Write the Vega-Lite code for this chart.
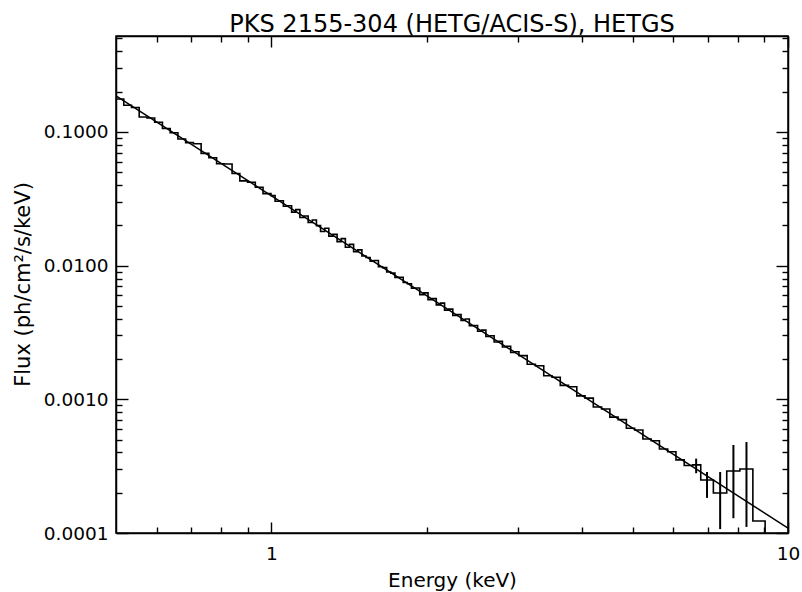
{
  "$schema": "https://vega.github.io/schema/vega-lite/v6.json",
  "autosize": "none",
  "width": 672,
  "height": 497,
  "padding": {"left": 116, "top": 36, "right": 14, "bottom": 59},
  "background": "white",
  "config": {
    "view": {"stroke": "black", "strokeWidth": 1.5},
    "font": "DejaVu Sans",
    "axis": {"domainColor": "black", "domainWidth": 1.5, "tickColor": "black", "tickWidth": 1.4, "labelColor": "black", "titleColor": "black", "grid": false, "labelFont": "DejaVu Sans", "titleFont": "DejaVu Sans", "labelFontSize": 18.5, "titleFontSize": 20, "titleFontWeight": "normal", "labelOverlap": false, "labelFlush": false}
  },
  "title": {"text": "PKS 2155-304 (HETG/ACIS-S), HETGS", "font": "DejaVu Sans", "fontSize": 24, "fontWeight": "normal", "color": "black", "anchor": "middle", "offset": -2},
  "datasets": {
    "model": [{"e": 0.5, "f": 0.186}, {"e": 10, "f": 0.0001088}],
    "spec": [
      {"e": 0.5, "f": 0.176}, {"e": 0.5176, "f": 0.158}, {"e": 0.5357, "f": 0.152}, {"e": 0.5545, "f": 0.129},
      {"e": 0.574, "f": 0.127}, {"e": 0.5941, "f": 0.118}, {"e": 0.615, "f": 0.106}, {"e": 0.6366, "f": 0.0985},
      {"e": 0.6589, "f": 0.0885}, {"e": 0.682, "f": 0.083}, {"e": 0.706, "f": 0.0815}, {"e": 0.7308, "f": 0.069},
      {"e": 0.7564, "f": 0.064}, {"e": 0.783, "f": 0.0578}, {"e": 0.8105, "f": 0.0575}, {"e": 0.8389, "f": 0.0488},
      {"e": 0.8684, "f": 0.043}, {"e": 0.8988, "f": 0.042}, {"e": 0.9304, "f": 0.0385}, {"e": 0.963, "f": 0.0345},
      {"e": 0.9977, "f": 0.0334}, {"e": 1.0162, "f": 0.0303}, {"e": 1.0351, "f": 0.0305}, {"e": 1.0544, "f": 0.0278},
      {"e": 1.074, "f": 0.0280}, {"e": 1.0939, "f": 0.0251}, {"e": 1.1143, "f": 0.0262}, {"e": 1.135, "f": 0.0229},
      {"e": 1.1561, "f": 0.0235}, {"e": 1.1776, "f": 0.0210}, {"e": 1.1995, "f": 0.0219}, {"e": 1.2218, "f": 0.0199},
      {"e": 1.2445, "f": 0.0180}, {"e": 1.2677, "f": 0.0190}, {"e": 1.2912, "f": 0.0166}, {"e": 1.3152, "f": 0.0171},
      {"e": 1.3397, "f": 0.0151}, {"e": 1.3646, "f": 0.0159}, {"e": 1.39, "f": 0.0137}, {"e": 1.4158, "f": 0.0144},
      {"e": 1.4421, "f": 0.0127}, {"e": 1.469, "f": 0.0131}, {"e": 1.4963, "f": 0.0118}, {"e": 1.5241, "f": 0.0115},
      {"e": 1.5524, "f": 0.0108}, {"e": 1.5813, "f": 0.0109}, {"e": 1.6107, "f": 0.0098}, {"e": 1.6407, "f": 0.00965},
      {"e": 1.6712, "f": 0.00895}, {"e": 1.7022, "f": 0.00878}, {"e": 1.7339, "f": 0.00816}, {"e": 1.7661, "f": 0.00818},
      {"e": 1.799, "f": 0.00748}, {"e": 1.8324, "f": 0.00732}, {"e": 1.8665, "f": 0.00678}, {"e": 1.9012, "f": 0.00680},
      {"e": 1.9366, "f": 0.00606}, {"e": 1.9726, "f": 0.00625}, {"e": 2.0093, "f": 0.00556}, {"e": 2.0466, "f": 0.00566},
      {"e": 2.0847, "f": 0.00508}, {"e": 2.1235, "f": 0.00524}, {"e": 2.163, "f": 0.00464}, {"e": 2.2032, "f": 0.00472},
      {"e": 2.2442, "f": 0.00424}, {"e": 2.2859, "f": 0.00430}, {"e": 2.3284, "f": 0.00389}, {"e": 2.3717, "f": 0.00398},
      {"e": 2.4158, "f": 0.00355}, {"e": 2.4607, "f": 0.00356}, {"e": 2.5065, "f": 0.00323}, {"e": 2.5531, "f": 0.00329},
      {"e": 2.6006, "f": 0.00295}, {"e": 2.649, "f": 0.00299}, {"e": 2.6982, "f": 0.00268}, {"e": 2.7484, "f": 0.00271},
      {"e": 2.7995, "f": 0.00246}, {"e": 2.8516, "f": 0.00249}, {"e": 2.9046, "f": 0.00224}, {"e": 2.9586, "f": 0.00227},
      {"e": 3.0136, "f": 0.00212}, {"e": 3.1267, "f": 0.00183}, {"e": 3.2441, "f": 0.00178}, {"e": 3.3658, "f": 0.0015},
      {"e": 3.4921, "f": 0.00146}, {"e": 3.6232, "f": 0.00127}, {"e": 3.7591, "f": 0.00124}, {"e": 3.9002, "f": 0.00106},
      {"e": 4.0465, "f": 0.00102}, {"e": 4.1984, "f": 0.000875}, {"e": 4.3559, "f": 0.000845}, {"e": 4.5194, "f": 0.000735},
      {"e": 4.689, "f": 0.000705}, {"e": 4.865, "f": 0.000608}, {"e": 5.0475, "f": 0.00059}, {"e": 5.2369, "f": 0.000505},
      {"e": 5.4335, "f": 0.00049}, {"e": 5.6374, "f": 0.000425}, {"e": 5.8489, "f": 0.000405}, {"e": 6.0684, "f": 0.000352},
      {"e": 6.2961, "f": 0.00032}, {"e": 6.5324, "f": 0.000323}, {"e": 6.7775, "f": 0.000249}, {"e": 7.17, "f": 0.000199},
      {"e": 7.61, "f": 0.000291}, {"e": 8.07, "f": 0.000301}, {"e": 8.55, "f": 0.000123}, {"e": 9.03, "f": 0.00008}
    ],
    "err": [
      {"e": 6.64, "lo": 0.00028, "hi": 0.00036},
      {"e": 6.97, "lo": 0.000183, "hi": 0.000286},
      {"e": 7.39, "lo": 0.000107, "hi": 0.000286},
      {"e": 7.84, "lo": 0.000129, "hi": 0.000455},
      {"e": 8.31, "lo": 0.000111, "hi": 0.000479}
    ]
  },
  "resolve": {"axis": {"x": "independent", "y": "independent"}},
  "layer": [
    {
      "data": {"name": "model"},
      "mark": {"type": "line", "color": "black", "strokeWidth": 1.5, "clip": true},
      "encoding": {
        "x": {"field": "e", "type": "quantitative", "scale": {"type": "log", "domain": [0.5, 10], "nice": false},
          "axis": {"orient": "bottom", "title": "Energy (keV)", "values": [1, 10], "format": "d",
            "tickSize": -11, "labelPadding": 22, "titleX": 336, "titleY": 47, "titleBaseline": "middle", "titleAlign": "center"}},
        "y": {"field": "f", "type": "quantitative", "scale": {"type": "log", "domain": [0.0001, 0.521], "nice": false},
          "axis": {"orient": "left", "title": "Flux (ph/cm²/s/keV)", "values": [0.0001, 0.001, 0.01, 0.1], "format": ".4f",
            "tickSize": -12, "labelPadding": 20, "titleX": -93, "titleY": 248, "titleBaseline": "middle", "titleAlign": "center", "titleAngle": -90, "titleFontSize": 21}}
      }
    },
    {
      "data": {"name": "spec"},
      "mark": {"type": "line", "interpolate": "step-after", "color": "black", "strokeWidth": 1.6, "clip": true},
      "encoding": {
        "x": {"field": "e", "type": "quantitative", "scale": {"type": "log", "domain": [0.5, 10], "nice": false},
          "axis": {"orient": "top", "title": null, "values": [1, 10], "labels": false, "tickSize": -11}},
        "y": {"field": "f", "type": "quantitative", "scale": {"type": "log", "domain": [0.0001, 0.521], "nice": false},
          "axis": {"orient": "right", "title": null, "labels": false, "values": [0.0001, 0.001, 0.01, 0.1], "tickSize": -12}}
      }
    },
    {
      "data": {"name": "err"},
      "mark": {"type": "rule", "color": "black", "strokeWidth": 2, "clip": true},
      "encoding": {
        "x": {"field": "e", "type": "quantitative", "scale": {"type": "log", "domain": [0.5, 10], "nice": false},
          "axis": {"orient": "bottom", "title": null, "labels": false, "domain": false, "values": [0.6, 0.7, 0.8, 0.9, 2, 3, 4, 5, 6, 7, 8, 9], "tickSize": -6}},
        "y": {"field": "lo", "type": "quantitative", "scale": {"type": "log", "domain": [0.0001, 0.521], "nice": false},
          "axis": {"orient": "left", "title": null, "labels": false, "domain": false, "tickSize": -6,
            "values": [0.0002, 0.0003, 0.0004, 0.0005, 0.0006, 0.0007, 0.0008, 0.0009, 0.002, 0.003, 0.004, 0.005, 0.006, 0.007, 0.008, 0.009, 0.02, 0.03, 0.04, 0.05, 0.06, 0.07, 0.08, 0.09, 0.2, 0.3, 0.4, 0.5]}},
        "y2": {"field": "hi"}
      }
    },
    {
      "data": {"name": "model"},
      "mark": {"type": "line", "opacity": 0, "clip": true},
      "encoding": {
        "x": {"field": "e", "type": "quantitative", "scale": {"type": "log", "domain": [0.5, 10], "nice": false},
          "axis": {"orient": "top", "title": null, "labels": false, "domain": false, "values": [0.6, 0.7, 0.8, 0.9, 2, 3, 4, 5, 6, 7, 8, 9], "tickSize": -6}},
        "y": {"field": "f", "type": "quantitative", "scale": {"type": "log", "domain": [0.0001, 0.521], "nice": false},
          "axis": {"orient": "right", "title": null, "labels": false, "domain": false, "tickSize": -6,
            "values": [0.0002, 0.0003, 0.0004, 0.0005, 0.0006, 0.0007, 0.0008, 0.0009, 0.002, 0.003, 0.004, 0.005, 0.006, 0.007, 0.008, 0.009, 0.02, 0.03, 0.04, 0.05, 0.06, 0.07, 0.08, 0.09, 0.2, 0.3, 0.4, 0.5]}}
      }
    }
  ]
}
